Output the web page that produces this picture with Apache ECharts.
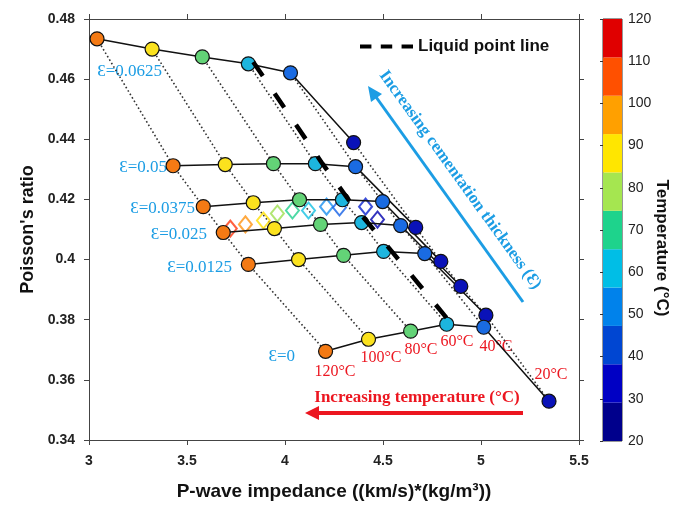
<!DOCTYPE html>
<html>
<head>
<meta charset="utf-8">
<script src="https://cdn.jsdelivr.net/npm/echarts@6/dist/echarts.min.js"></script>
<style>
  html, body { margin: 0; padding: 0; background: #fff; }
  #chart { width: 683px; height: 506px; }
</style>
</head>
<body>
<div id="chart"></div>
<script>
// temperatures of the points on each cementation row (left to right)
var temps = [120, 100, 80, 60, 40, 20];
var epsNames = ['0.0625', '0.05', '0.0375', '0.025', '0.0125', '0'];

// P-wave impedance / Poisson's ratio per cementation thickness
var imp_0625 = [3.041, 3.322, 3.578, 3.813, 4.028, 4.350];
var pr_0625  = [0.4734, 0.4700, 0.4674, 0.4651, 0.4621, 0.4389];
var imp_05   = [3.429, 3.695, 3.941, 4.155, 4.360, 4.667];
var pr_05    = [0.4312, 0.4316, 0.4319, 0.4319, 0.4309, 0.4107];
var imp_0375 = [3.583, 3.838, 4.074, 4.293, 4.498, 4.795];
var pr_0375  = [0.4176, 0.4189, 0.4199, 0.4199, 0.4193, 0.3994];
var imp_025  = [3.685, 3.946, 4.181, 4.391, 4.590, 4.897];
var pr_025   = [0.4090, 0.4103, 0.4117, 0.4123, 0.4113, 0.3911];
var imp_0125 = [3.813, 4.069, 4.299, 4.503, 4.713, 5.025];
var pr_0125  = [0.3984, 0.4000, 0.4014, 0.4027, 0.4020, 0.3815];
var imp_0    = [4.207, 4.426, 4.641, 4.825, 5.014, 5.347];
var pr_0     = [0.3695, 0.3735, 0.3762, 0.3785, 0.3775, 0.3529];

// liquid point line
var liqImp = [3.838, 4.191, 4.324, 4.426, 4.549, 4.856];
var liqPr  = [0.4657, 0.4319, 0.4199, 0.4120, 0.4024, 0.3781];

// hollow diamonds
var diaImp = [3.721, 3.798, 3.890, 3.961, 4.038, 4.120, 4.212, 4.278, 4.411, 4.472];
var diaPr  = [0.4103, 0.4117, 0.4130, 0.4153, 0.4163, 0.4163, 0.4176, 0.4173, 0.4176, 0.4133];

// colorbar bins (20 -> 120 degC)
var cbEdges = [20, 29.09, 38.18, 47.27, 56.36, 65.45, 74.55, 83.64, 92.73, 101.82, 110.91, 120];

// styles
var tempColors = ['#F47A14', '#FBE21E', '#63D377', '#1DB5DE', '#1A6BE2', '#0A12B8'];
var diaColors = ['#FF3A10', '#FF9410', '#FFE000', '#9EE050', '#22D08E', '#14C0E2', '#1A90F0', '#1460E6', '#0A22D0', '#0000AE'];
var cbColors = ['#00008C', '#0000C4', '#0046D2', '#0082EB', '#00BEE6', '#1ED38C', '#A5E650', '#FFE600', '#FFA000', '#FF5000', '#E00000'];
var blue = '#1C9DE4';
var red = '#EC1620';

var rows = [
    {imp: imp_0625, pr: pr_0625},
    {imp: imp_05, pr: pr_05},
    {imp: imp_0375, pr: pr_0375},
    {imp: imp_025, pr: pr_025},
    {imp: imp_0125, pr: pr_0125},
    {imp: imp_0, pr: pr_0}
];

var series = [];

// dotted lines: same temperature across cementation
temps.forEach(function (t, j) {
    series.push({
        type: 'line',
        data: rows.map(function (r) { return [r.imp[j], r.pr[j]]; }),
        symbol: 'none',
        silent: true,
        lineStyle: {color: '#333', width: 1.6, type: [1.6, 2.4]},
        z: 1
    });
});

series.push({
    type: 'scatter',
    data: diaImp.map(function (x, i) {
        return {value: [x, diaPr[i]], itemStyle: {borderColor: diaColors[i]}};
    }),
    symbol: 'diamond',
    symbolSize: [13, 16],
    itemStyle: {color: 'rgba(0,0,0,0)', borderWidth: 2},
    z: 2
});

// solid lines: one row per cementation thickness
rows.forEach(function (r) {
    series.push({
        type: 'line',
        data: r.imp.map(function (x, i) {
            return {value: [x, r.pr[i]], itemStyle: {color: tempColors[i]}};
        }),
        symbol: 'circle',
        symbolSize: 14,
        lineStyle: {color: '#111', width: 1.5},
        itemStyle: {borderColor: '#111', borderWidth: 1.2},
        z: 3
    });
});

series.push({
    name: 'Liquid point line',
    type: 'line',
    data: liqImp.map(function (x, i) { return [x, liqPr[i]]; }),
    symbol: 'none',
    itemStyle: {color: '#000'},
    lineStyle: {color: '#000', width: 4.5, type: [17, 21]},
    z: 5
});

// colorbar
series.push({
    type: 'custom',
    xAxisIndex: 2,
    yAxisIndex: 2,
    data: cbColors.map(function (c, i) { return [cbEdges[i], cbEdges[i + 1]]; }),
    renderItem: function (params, api) {
        var p1 = api.coord([0, api.value(1)]);
        var p2 = api.coord([1, api.value(0)]);
        return {
            type: 'rect',
            shape: {x: p1[0], y: p1[1], width: p2[0] - p1[0], height: p2[1] - p1[1]},
            style: {fill: cbColors[params.dataIndex]}
        };
    },
    silent: true
});

var labelFont = {fontFamily: 'Liberation Sans', fontWeight: 'bold', fontSize: 14, color: '#222'};
var nameFont = {fontFamily: 'Liberation Sans', fontWeight: 'bold', fontSize: 18, color: '#111'};
var axisLine = {show: true, lineStyle: {color: '#444', width: 1}};
var tick = {show: true, length: 5, lineStyle: {color: '#444'}};

var graphics = [];
// epsilon labels
var epsPos = [[162, 72], [167, 168], [195, 209], [207, 235], [232, 268], [295, 357]];
epsNames.forEach(function (e, i) {
    graphics.push({
        type: 'text', x: epsPos[i][0], y: epsPos[i][1],
        style: {text: '\u0190=' + e, fill: blue, font: '17px "Liberation Serif"', textAlign: 'right', textVerticalAlign: 'middle'}
    });
});
// temperature labels
var tPos = [[335, 372], [381, 358], [421, 350], [457, 342], [496, 347], [551, 375]];
temps.forEach(function (t, i) {
    graphics.push({
        type: 'text', x: tPos[i][0], y: tPos[i][1],
        style: {text: t + '\u00B0C', fill: red, font: '16px "Liberation Serif"', textAlign: 'center', textVerticalAlign: 'middle'}
    });
});
graphics.push(
    {type: 'text', x: 417, y: 398, style: {text: 'Increasing temperature (\u00B0C)', fill: red, font: 'bold 17px "Liberation Serif"', textAlign: 'center', textVerticalAlign: 'middle'}},
    {type: 'line', shape: {x1: 523, y1: 413, x2: 316, y2: 413}, style: {stroke: red, lineWidth: 4}},
    {type: 'polygon', shape: {points: [[305, 413], [319, 406], [319, 420]]}, style: {fill: red}},
    {type: 'line', shape: {x1: 523, y1: 302, x2: 376, y2: 97}, style: {stroke: blue, lineWidth: 3}},
    {type: 'polygon', shape: {points: [[368, 86], [382, 94], [371, 102]]}, style: {fill: blue}},
    {type: 'text', x: 460, y: 180, rotation: -0.946,
        style: {text: 'Increasing cementation thickness (\u0190)', fill: blue, font: 'bold 17px "Liberation Serif"', textAlign: 'center', textVerticalAlign: 'middle'}},
    {type: 'text', x: 662, y: 248, rotation: -Math.PI / 2,
        style: {text: 'Temperature (\u00B0C)', fill: '#111', font: 'bold 17px "Liberation Sans"', textAlign: 'center', textVerticalAlign: 'middle'}}
);

var myChart = echarts.init(document.getElementById('chart'));
myChart.setOption({
    animation: false,
    backgroundColor: '#fff',
    legend: {
        data: [{name: 'Liquid point line', icon: 'path://M0,0h11v4h-11z M20,0h11v4h-11z M40,0h11v4h-11z'}],
        left: 355,
        top: 33,
        itemWidth: 53,
        itemHeight: 5,
        itemGap: 8,
        selectedMode: false,
        textStyle: {fontFamily: 'Liberation Sans', fontWeight: 'bold', fontSize: 17, color: '#111'}
    },
    grid: [
        {left: 89, top: 19, width: 490, height: 422},
        {left: 603, top: 19, width: 19, height: 422, show: true, borderColor: '#333', borderWidth: 1, backgroundColor: 'transparent'}
    ],
    xAxis: [
        {
            type: 'value', gridIndex: 0, min: 3, max: 5.5, interval: 0.5,
            name: 'P-wave impedance ((km/s)*(kg/m\u00B3))', nameLocation: 'middle', nameGap: 42,
            nameTextStyle: Object.assign({}, nameFont, {fontSize: 19}),
            axisLine: axisLine, axisTick: tick, splitLine: {show: false},
            axisLabel: Object.assign({margin: 14}, labelFont)
        },
        {
            type: 'value', gridIndex: 0, position: 'top', min: 3, max: 5.5, interval: 0.5,
            axisLine: axisLine, axisTick: tick, splitLine: {show: false}, axisLabel: {show: false}
        },
        {
            type: 'value', gridIndex: 1, min: 0, max: 1, show: false
        }
    ],
    yAxis: [
        {
            type: 'value', gridIndex: 0, min: 0.34, max: 0.48, interval: 0.02,
            name: "Poisson's ratio", nameLocation: 'middle', nameGap: 50, nameRotate: 90,
            nameTextStyle: nameFont,
            axisLine: axisLine, axisTick: tick, splitLine: {show: false},
            axisLabel: Object.assign({margin: 14}, labelFont)
        },
        {
            type: 'value', gridIndex: 0, position: 'right', min: 0.34, max: 0.48, interval: 0.02,
            axisLine: axisLine, axisTick: tick, splitLine: {show: false}, axisLabel: {show: false}
        },
        {
            type: 'value', gridIndex: 1, position: 'right', min: 20, max: 120, interval: 10,
            axisLine: {show: false}, splitLine: {show: false},
            axisTick: {show: true, inside: true, length: 3, lineStyle: {color: '#333'}},
            axisLabel: {margin: 6, fontFamily: 'Liberation Sans', fontSize: 14, color: '#222'}
        }
    ],
    graphic: graphics,
    series: series
});
</script>
</body>
</html>
